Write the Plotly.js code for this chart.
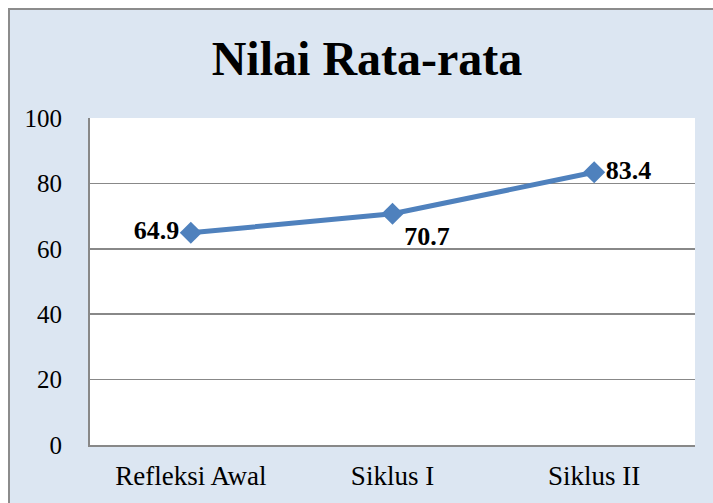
<!DOCTYPE html>
<html>
<head>
<meta charset="utf-8">
<script src="https://cdn.plot.ly/plotly-3.0.1.min.js"></script>
<style>html,body{margin:0;padding:0;background:#fff;}#chart{width:713px;height:503px;}</style>
</head>
<body>
<div id="chart"></div>
<script>
const categories = ["Refleksi Awal", "Siklus I", "Siklus II"];
const values = [64.9, 70.7, 83.4];
const labels = ["64.9", "70.7", "83.4"];
const labelPositions = ["middle left", "bottom right", "middle right"];
const yTicks = [0, 20, 40, 60, 80, 100];

const W = 713, H = 503;
const m = {l: 90, r: 18, t: 118, b: 58};
const pw = W - m.l - m.r, ph = H - m.t - m.b;
function px(x){ return (x - m.l) / pw; }
function py(y){ return (H - m.b - y) / ph; }
const FONT = '"Liberation Serif", "Times New Roman", serif';

const trace = {
  x: categories,
  y: values,
  text: labels,
  type: 'scatter',
  mode: 'lines+markers+text',
  textposition: labelPositions,
  textfont: {family: FONT, size: 26, color: '#000', weight: 'bold'},
  line: {color: '#4f81bd', width: 5},
  marker: {symbol: 'diamond', size: 17, color: '#4f81bd'},
  cliponaxis: false,
  hoverinfo: 'skip'
};

const layout = {
  width: W, height: H,
  margin: m,
  paper_bgcolor: 'rgba(0,0,0,0)',
  plot_bgcolor: '#ffffff',
  showlegend: false,
  title: {
    text: '<b>Nilai Rata-rata</b>',
    font: {family: FONT, size: 48, color: '#000'},
    x: 367 / W, xanchor: 'center', xref: 'container',
    y: 1 - 58 / H, yanchor: 'middle', yref: 'container'
  },
  xaxis: {
    type: 'category',
    range: [-0.5, 2.5],
    showgrid: false,
    showline: true, linecolor: '#888888', linewidth: 2,
    ticks: '',
    ticklabelstandoff: 6,
    tickfont: {family: FONT, size: 27, color: '#000'},
    fixedrange: true
  },
  yaxis: {
    range: [0, 100],
    tickvals: yTicks,
    ticktext: yTicks.map(String),
    showgrid: true, gridcolor: '#888888', gridwidth: 1.5,
    showline: true, linecolor: '#888888', linewidth: 2,
    zeroline: false,
    ticks: '',
    ticklabelstandoff: 21,
    tickfont: {family: FONT, size: 25, color: '#000'},
    fixedrange: true
  },
  shapes: [{
    type: 'rect', xref: 'paper', yref: 'paper', layer: 'below',
    x0: px(9), x1: px(W + 5), y0: py(9), y1: py(H + 5),
    fillcolor: '#dce6f2',
    line: {color: '#8c8c8c', width: 2}
  }, {
    type: 'rect', xref: 'paper', yref: 'paper', layer: 'below',
    x0: 0, x1: 1, y0: 0, y1: 1,
    fillcolor: '#ffffff',
    line: {width: 0}
  }]
};

Plotly.newPlot('chart', [trace], layout, {displayModeBar: false, staticPlot: true});
</script>
</body>
</html>
